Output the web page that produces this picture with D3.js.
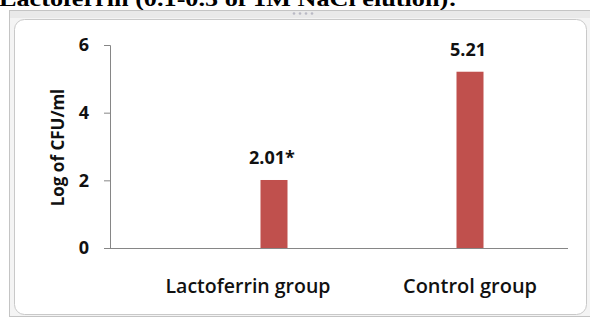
<!DOCTYPE html>
<html><head><meta charset="utf-8">
<script src="https://cdn.jsdelivr.net/npm/d3@7"></script>
<style>html,body{margin:0;padding:0;background:#fff;overflow:hidden}</style>
</head><body>
<svg id="c" width="590" height="320"></svg>
<script>
const categories = ["Lactoferrin group", "Control group"];
const values = [2.01, 5.21];
const valueLabels = ["2.01*", "5.21"];
const yTicks = [0, 2, 4, 6];
const yTitle = "Log of CFU/ml";
const caption = "Lactoferrin (0.1-0.5 of 1M NaCl elution):";

const svg = d3.select("#c");
const FONT = "'Open Sans', 'Liberation Sans', sans-serif";

svg.append("rect").attr("width",590).attr("height",320).attr("fill","#fff");

// caption cut off at top
svg.append("text").attr("x",-1).attr("y",6)
  .attr("font-family","'Liberation Serif', serif").attr("font-weight","bold")
  .attr("font-size",22).attr("textLength",458).attr("lengthAdjust","spacingAndGlyphs")
  .attr("fill","#000").text(caption);

// outer frame
svg.append("rect").attr("x",9.5).attr("y",10.5).attr("width",590).attr("height",306)
  .attr("fill","#f4f4f4").attr("stroke","#c4c4c4");
svg.append("rect").attr("x",10).attr("y",11).attr("width",590).attr("height",7).attr("fill","#e9e9e9");
svg.selectAll("circle.h").data([0,1,2,3]).join("circle")
  .attr("cx",d=>294+d*6).attr("cy",13.5).attr("r",1.3).attr("fill","#b9b9c4");

// chart area (rounded)
svg.append("rect").attr("x",14.5).attr("y",19.5).attr("width",572).attr("height",295).attr("rx",10)
  .attr("fill","#fff").attr("stroke","#c9c9c9");

const y = d3.scaleLinear().domain([0,6]).range([248,45]);
const x = d3.scaleBand().domain(categories).range([176,568]).padding(0);
const axisX0 = 110;
const barW = 27;
const labelDx = [-26, 0];
const labelLen = [165, 134];

// y axis
const gy = svg.append("g").attr("transform",`translate(${axisX0},0)`)
  .call(d3.axisLeft(y).tickValues(yTicks).tickSize(6).tickFormat(d3.format("d")));
gy.select(".domain").attr("stroke","#868686").attr("d",`M-6,${y(6)+0.5}H0.5V${y(0)}`);
gy.selectAll(".tick line").attr("stroke","#868686");
gy.selectAll(".tick text").attr("x",-21).attr("font-family",FONT).attr("font-weight","bold")
  .attr("font-size",18).attr("fill","#111");

// x axis line
svg.append("line").attr("x1",axisX0).attr("x2",568).attr("y1",y(0)+0.5).attr("y2",y(0)+0.5)
  .attr("stroke","#868686");

// bars
svg.selectAll("rect.bar").data(values).join("rect").attr("class","bar")
  .attr("x",(d,i)=>x(categories[i])+x.bandwidth()/2-barW/2)
  .attr("y",d=>y(d)).attr("width",barW).attr("height",d=>y(0)-y(d))
  .attr("fill","#c0504d");

// value labels
svg.selectAll("text.val").data(values).join("text").attr("class","val")
  .attr("x",(d,i)=>x(categories[i])+x.bandwidth()/2-2)
  .attr("y",d=>y(d)-16).attr("text-anchor","middle")
  .attr("font-family",FONT).attr("font-weight","bold").attr("font-size",18).attr("fill","#111")
  .text((d,i)=>valueLabels[i]);

// category labels
svg.selectAll("text.cat").data(categories).join("text").attr("class","cat")
  .attr("x",(d,i)=>x(d)+x.bandwidth()/2+labelDx[i]-labelLen[i]/2).attr("y",293)
  .attr("textLength",(d,i)=>labelLen[i]).attr("lengthAdjust","spacingAndGlyphs")
  .attr("font-family",FONT).attr("font-weight",600).attr("font-size",19).attr("fill","#111")
  .text(d=>d);

// y title
svg.append("text").attr("transform","translate(64,147.5) rotate(-90)")
  .attr("text-anchor","middle").attr("font-family",FONT).attr("font-weight","bold")
  .attr("font-size",17).attr("fill","#111").text(yTitle);
</script>
</body></html>
